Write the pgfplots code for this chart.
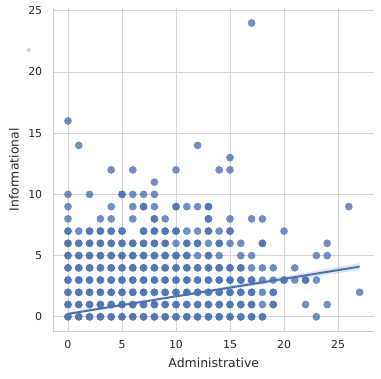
\documentclass[border=0pt]{standalone}
\usepackage{fontspec}
\setmainfont{DejaVu Sans}
\usepackage{pgfplots}
\usepackage{pgfplotstable}
\pgfplotsset{compat=1.18}
\definecolor{sb}{HTML}{4C72B0}
\definecolor{gridc}{HTML}{CCCCCC}
\definecolor{txt}{HTML}{262626}

% points drawn twice (overlapping observations, darker)
\pgfplotstableread{
x y
0 0
1 0
2 0
3 0
4 0
5 0
6 0
7 0
8 0
9 0
10 0
11 0
12 0
13 0
14 0
15 0
16 0
17 0
18 0
0 1
1 1
2 1
3 1
4 1
5 1
6 1
7 1
8 1
9 1
10 1
11 1
12 1
13 1
14 1
15 1
16 1
17 1
19 1
0 2
1 2
2 2
3 2
4 2
5 2
6 2
7 2
8 2
9 2
10 2
11 2
12 2
13 2
14 2
15 2
16 2
17 2
19 2
0 3
1 3
2 3
3 3
4 3
5 3
6 3
7 3
8 3
9 3
10 3
11 3
12 3
13 3
14 3
15 3
16 3
17 3
20 3
22 3
0 4
1 4
2 4
3 4
4 4
5 4
6 4
7 4
8 4
9 4
10 4
11 4
12 4
13 4
14 4
15 4
16 4
0 5
1 5
2 5
3 5
4 5
5 5
6 5
7 5
8 5
9 5
10 5
11 5
13 5
0 6
1 6
2 6
3 6
4 6
5 6
6 6
7 6
8 6
9 6
11 6
12 6
14 6
18 6
0 7
2 7
3 7
4 7
5 7
7 7
8 7
9 7
10 7
13 7
15 7
8 8
13 8
7 9
10 9
13 9
5 10
}\darkpts

% points drawn once
\pgfplotstableread{
x y
23 0
18 1
22 1
24 1
18 2
27 2
18 3
19 3
21 3
23 3
17 4
18 4
19 4
21 4
12 5
14 5
16 5
17 5
23 5
24 5
10 6
13 6
15 6
16 6
24 6
1 7
11 7
12 7
14 7
20 7
0 8
3 8
4 8
6 8
9 8
15 8
17 8
18 8
0 9
4 9
6 9
8 9
11 9
12 9
26 9
0 10
2 10
6 10
7 10
8 10
8 11
4 12
6 12
10 12
14 12
15 12
15 13
1 14
12 14
0 16
17 24
}\lightpts

\pgfplotsset{
  sbmark/.style={only marks, mark=*, mark size=3.9pt, color=sb, line width=0pt,
    mark options={draw=none, draw opacity=0, fill=sb, fill opacity=0.8}},
}

\begin{document}
\begin{tikzpicture}
\path[use as bounding box] (-53.4bp,-47.3bp) rectangle (327.6bp,331.5bp);
\begin{axis}[
  at={(0,0)}, anchor=south west,
  scale only axis, width=320.8bp, height=323.2bp,
  xmin=-1.35, xmax=28.35, ymin=-1.2, ymax=25.2,
  xtick={0,5,10,15,20,25}, ytick={0,5,10,15,20,25},
  axis lines*=left, axis line style={-, gridc, line width=1.1bp},
  grid=major, major grid style={gridc!85, line width=0.9bp},
  major tick length=0pt, tick style={draw=none},
  /pgf/number format/assume math mode=true,
  ticklabel style={font=\fontsize{11}{13}\selectfont, text=txt},
  xticklabel style={anchor=center, yshift=-13.5bp},
  yticklabel style={anchor=east, inner sep=0pt, xshift=-11bp},
  xlabel={Administrative}, ylabel={Informational},
  label style={font=\fontsize{12.5}{15}\selectfont, text=txt},
  xlabel style={at={(axis description cs:0.5,-0.0975)}, anchor=center},
  ylabel style={at={(axis description cs:-0.1225,0.5)}, anchor=center},
  clip=false,
]
\addplot[sbmark] table[x=x,y=y] {\lightpts};
\addplot[sbmark] table[x=x,y=y] {\darkpts};
\addplot[sbmark] table[x=x,y=y] {\darkpts};
% confidence band
\addplot[draw=none, fill=sb, fill opacity=0.18] coordinates {(0,0.12) (10,1.62) (27,3.82) (27,4.38) (10,1.78) (0,0.36)} -- cycle;
% regression line
\addplot[sb, line width=2bp] coordinates {(0,0.24) (27,4.1)};
% stray marker outside the axes
\addplot[only marks, mark=o, mark size=1.7pt, color=sb!55, mark options={draw=sb!55, fill=none, line width=0.6bp}] coordinates {(-3.65,21.8)};
\end{axis}
\end{tikzpicture}
\end{document}
